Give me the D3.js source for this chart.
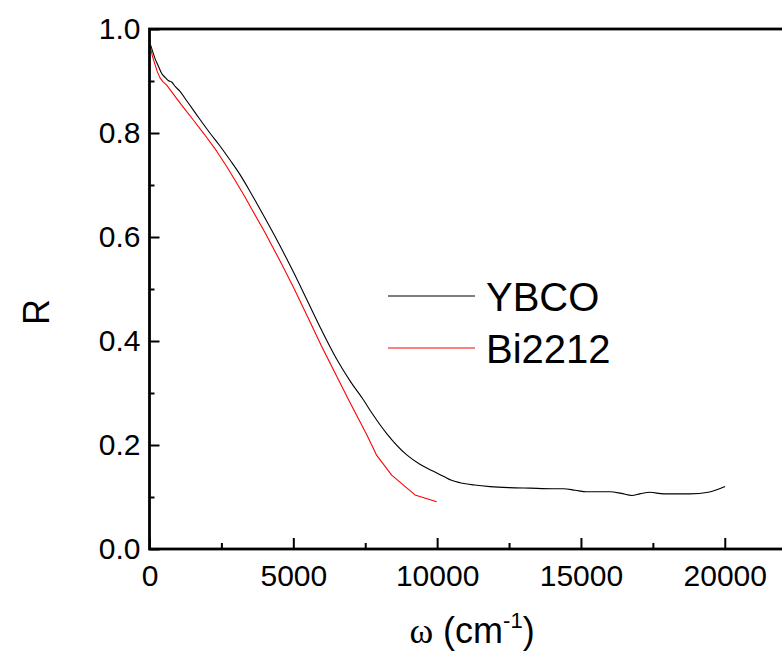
<!DOCTYPE html>
<html>
<head>
<meta charset="utf-8">
<script src="https://cdn.jsdelivr.net/npm/d3@7"></script>
<style>
  html, body { margin: 0; padding: 0; background: #fff; }
  svg { display: block; font-family: "Liberation Sans", Arial, sans-serif; }
</style>
</head>
<body>
<svg id="chart" width="782" height="651"></svg>
<script>
// ---- data ----
const ybcoOmega = [40, 120, 200, 306, 420, 540, 650, 772, 900, 1060, 1293, 1500, 1756, 2100, 2450, 2800, 3147, 3450, 3727, 4000, 4500, 5000, 5500, 6000, 6500, 7000, 7435, 7725, 8247, 8943, 9400, 9812, 10215, 10500, 10796, 11300, 11840, 12500, 13230, 14000, 14390, 14800, 15200, 16010, 16400, 16770, 17050, 17400, 17870, 18790, 19430, 20010];
const ybcoR     = [0.969, 0.955, 0.942, 0.929, 0.915, 0.907, 0.901, 0.898, 0.889, 0.880, 0.862, 0.846, 0.826, 0.800, 0.775, 0.748, 0.720, 0.692, 0.665, 0.638, 0.587, 0.533, 0.476, 0.419, 0.366, 0.321, 0.287, 0.262, 0.222, 0.181, 0.163, 0.151, 0.140, 0.132, 0.1275, 0.123, 0.120, 0.118, 0.117, 0.116, 0.116, 0.113, 0.110, 0.110, 0.107, 0.103, 0.106, 0.109, 0.106, 0.106, 0.109, 0.120];
const biOmega   = [30, 100, 190, 270, 365, 480, 598, 760, 946, 1200, 1523, 1900, 2337, 2700, 3032, 3300, 3553, 4000, 4500, 5000, 5500, 6000, 6500, 6920, 7250, 7550, 7900, 8420, 9230, 9985];
const biR       = [0.966, 0.948, 0.932, 0.918, 0.906, 0.898, 0.892, 0.880, 0.866, 0.848, 0.825, 0.798, 0.765, 0.734, 0.704, 0.679, 0.654, 0.610, 0.558, 0.504, 0.446, 0.388, 0.333, 0.287, 0.252, 0.220, 0.180, 0.142, 0.104, 0.091];
const seriesNames  = ["YBCO", "Bi2212"];
const seriesColors = ["#000000", "#ff0000"];
const xMajorTicks = [0, 5000, 10000, 15000, 20000];
const xMinorTicks = [2500, 7500, 12500, 17500];
const yMajorTicks = [0.0, 0.2, 0.4, 0.6, 0.8, 1.0];
const yMinorTicks = [0.1, 0.3, 0.5, 0.7, 0.9];

// ---- layout ----
const svg = d3.select("#chart");
const x = d3.scaleLinear().domain([0, 22000]).range([149.5, 782.3]);
const y = d3.scaleLinear().domain([0, 1]).range([549, 29]);

const ybco = ybcoOmega.map((w, i) => [w, ybcoR[i]]);
const bi = biOmega.map((w, i) => [w, biR[i]]);

const smoothLine = d3.line().x(d => x(d[0])).y(d => y(d[1])).curve(d3.curveMonotoneX);
const straightLine = d3.line().x(d => x(d[0])).y(d => y(d[1]));

// curves
svg.append("path").datum(ybco)
  .attr("d", smoothLine)
  .attr("fill", "none").attr("stroke", seriesColors[0])
  .attr("stroke-width", 1.1).attr("stroke-linejoin", "round");
svg.append("path").datum(bi)
  .attr("d", straightLine)
  .attr("fill", "none").attr("stroke", seriesColors[1])
  .attr("stroke-width", 1.1).attr("stroke-linejoin", "round");

// axes
function styleAxis(sel) {
  sel.select(".domain").remove();
  sel.selectAll(".tick line").attr("stroke", "#000").attr("stroke-width", 2);
  sel.selectAll(".tick text").attr("fill", "#000").attr("font-size", 30)
    .attr("font-family", "'Liberation Sans', Arial, sans-serif");
}

svg.append("g").attr("transform", `translate(0,${y(0)})`)
  .call(d3.axisBottom(x).tickValues(xMajorTicks).tickSize(-11).tickPadding(16).tickFormat(d3.format("d")))
  .call(styleAxis);
svg.append("g").attr("transform", `translate(0,${y(0)})`)
  .call(d3.axisBottom(x).tickValues(xMinorTicks).tickSize(-6).tickFormat(""))
  .call(styleAxis);
svg.append("g").attr("transform", `translate(${x(0)},0)`)
  .call(d3.axisLeft(y).tickValues(yMajorTicks).tickSize(-10).tickPadding(9).tickFormat(d3.format(".1f")))
  .call(styleAxis);
svg.append("g").attr("transform", `translate(${x(0)},0)`)
  .call(d3.axisLeft(y).tickValues(yMinorTicks).tickSize(-5).tickFormat(""))
  .call(styleAxis);

// frame (right side lies beyond the visible area)
svg.append("rect")
  .attr("x", x(0)).attr("y", y(1))
  .attr("width", x(22000) - x(0) + 10).attr("height", y(0) - y(1))
  .attr("fill", "none").attr("stroke", "#000").attr("stroke-width", 2.8);

// legend
const legendY = [296, 348];
seriesNames.forEach((name, i) => {
  svg.append("line")
    .attr("x1", 388).attr("x2", 475)
    .attr("y1", legendY[i]).attr("y2", legendY[i])
    .attr("stroke", seriesColors[i]).attr("stroke-width", 1.1);
  svg.append("text")
    .attr("x", 486).attr("y", legendY[i] + 15)
    .attr("font-size", 40).attr("fill", "#000")
    .text(name);
});

// axis titles
const xt = svg.append("text")
  .attr("x", 472).attr("y", 643)
  .attr("text-anchor", "middle")
  .attr("font-size", 36).attr("fill", "#000");
xt.append("tspan").attr("font-family", "'Liberation Serif', 'Times New Roman', serif").text("ω");
xt.append("tspan").text(" (cm");
xt.append("tspan").attr("font-size", 22).attr("dy", -15).text("-1");
xt.append("tspan").attr("dy", 15).text(")");

svg.append("text")
  .attr("transform", "translate(49,312) rotate(-90)")
  .attr("text-anchor", "middle")
  .attr("font-size", 36).attr("fill", "#000")
  .text("R");
</script>
</body>
</html>
